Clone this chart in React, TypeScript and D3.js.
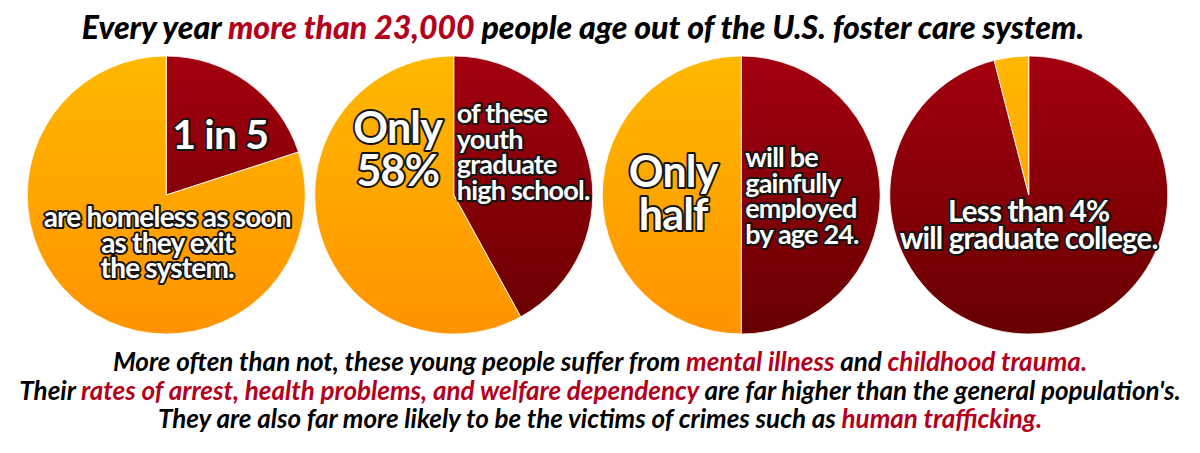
import React from 'react';
import * as d3 from 'd3';

// share of each pie: red slice first (clockwise from 12 o'clock), then orange
const pieKeys = ['homeless', 'highSchool', 'employed', 'college'];
const redShare = [20, 42, 50, 96];
const orangeShare = [80, 58, 50, 4];

const titleParts = [
  { t: 'Every year ', red: false },
  { t: 'more than 23,000', red: true },
  { t: ' people age out of the U.S. foster care system.', red: false },
];

const footerLines = [
  [
    { t: 'More often than not, these young people suffer from ', red: false },
    { t: 'mental illness', red: true },
    { t: ' and ', red: false },
    { t: 'childhood trauma.', red: true },
  ],
  [
    { t: 'Their ', red: false },
    { t: 'rates of arrest, health problems, and welfare dependency', red: true },
    { t: " are far higher than the general population's.", red: false },
  ],
  [
    { t: 'They are also far more likely to be the victims of crimes such as ', red: false },
    { t: 'human trafficking.', red: true },
  ],
];

// label blocks per pie (offsets relative to pie centre)
const pieLabels = [
  [
    { lines: ['1 in 5'], dx: 54, dy: -46, size: 41, anchor: 'middle', lh: 0 },
    { lines: ['are homeless as soon', 'as they exit', 'the system.'], dx: 1, dy: 32, size: 28, anchor: 'middle', lh: 25.5 },
  ],
  [
    { lines: ['Only', '58%'], dx: -56, dy: -52, size: 43, anchor: 'middle', lh: 43 },
    { lines: ['of these', 'youth', 'graduate', 'high school.'], dx: 3, dy: -72, size: 27, anchor: 'start', lh: 25.5 },
  ],
  [
    { lines: ['Only', 'half'], dx: -68, dy: -8, size: 43, anchor: 'middle', lh: 43 },
    { lines: ['will be', 'gainfully', 'employed', 'by age 24.'], dx: 4, dy: -28, size: 27, anchor: 'start', lh: 25.5 },
  ],
  [
    { lines: ['Less than 4%', 'will graduate college.'], dx: 0, dy: 27, size: 29.5, anchor: 'middle', lh: 27 },
  ],
];

const W = 1200;
const H = 453;
const RED_TEXT = '#b3001b';
const FONT = 'Lato, "Open Sans", sans-serif';

export default function App() {
  const x = d3.scaleBand<string>().domain(pieKeys).range([22.5, 1172.5]);
  const cy = 195;
  const r = 139;
  const pie = d3.pie<number>().sort(null).value(d => d);
  const arc = d3.arc<d3.PieArcDatum<number>>().innerRadius(0).outerRadius(r);

  return (
    <svg width={W} height={H} style={{ position: 'absolute', left: 0, top: 0, background: '#fff' }}>
      <defs>
        <linearGradient id="gOrange" x1="0" y1={-r} x2="0" y2={r} gradientUnits="userSpaceOnUse">
          <stop offset="0" stopColor="#ffb800" />
          <stop offset="1" stopColor="#ff9300" />
        </linearGradient>
        <linearGradient id="gRed" x1="0" y1={-r} x2="0" y2={r} gradientUnits="userSpaceOnUse">
          <stop offset="0" stopColor="#a3000f" />
          <stop offset="1" stopColor="#680000" />
        </linearGradient>
      </defs>

      <text x={583} y={39} textAnchor="middle" fontFamily={FONT} fontWeight={900} fontStyle="italic" fontSize={32} fill="#000">
        {titleParts.map((p, i) => (
          <tspan key={i} fill={p.red ? RED_TEXT : '#000'}>{p.t}</tspan>
        ))}
      </text>

      {pieKeys.map((k, i) => {
        const cx = (x(k) as number) + x.bandwidth() / 2;
        const arcs = pie([redShare[i], orangeShare[i]]);
        return (
          <g key={k}>
            <g transform={`translate(${cx},${cy})`}>
              {arcs.map((a, j) => (
                <path
                  key={j}
                  d={arc(a) as string}
                  fill={j === 0 ? 'url(#gRed)' : 'url(#gOrange)'}
                  stroke="#fff"
                  strokeWidth={1}
                  strokeOpacity={0.8}
                />
              ))}
            </g>
            {pieLabels[i].map((b, bi) => (
              <text
                key={bi}
                x={cx + b.dx}
                y={cy + b.dy}
                textAnchor={b.anchor as any}
                fontFamily={FONT}
                fontWeight={700}
                fontSize={b.size}
                fill="#fff"
                stroke="#151515"
                strokeWidth={4}
                strokeLinejoin="round"
                style={{ paintOrder: 'stroke', letterSpacing: '-0.8px' }}
              >
                {b.lines.map((ln, li) => (
                  <tspan key={li} x={cx + b.dx} dy={li === 0 ? 0 : b.lh}>{ln}</tspan>
                ))}
              </text>
            ))}
          </g>
        );
      })}

      {footerLines.map((line, i) => (
        <text
          key={i}
          x={600}
          y={371 + i * 28.5}
          textAnchor="middle"
          fontFamily={FONT}
          fontWeight={700}
          fontStyle="italic"
          fontSize={26}
          fill="#000"
        >
          {line.map((p, j) => (
            <tspan key={j} fill={p.red ? RED_TEXT : '#000'}>{p.t}</tspan>
          ))}
        </text>
      ))}
    </svg>
  );
}
